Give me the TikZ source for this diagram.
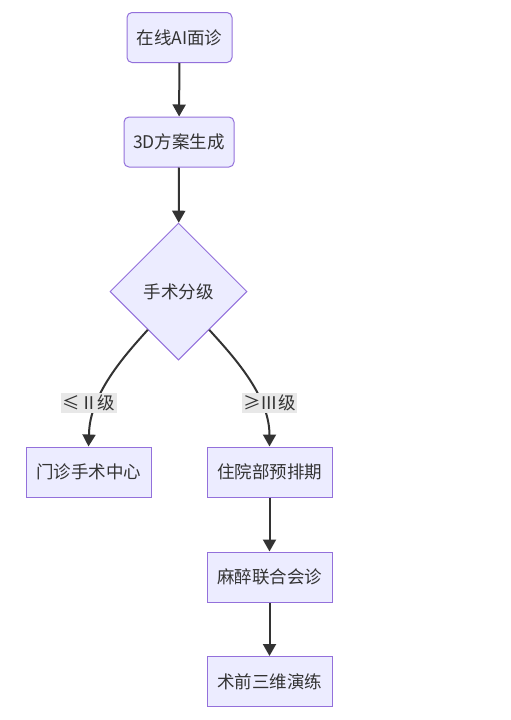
\documentclass[tikz,border=0pt]{standalone}
\usepackage{fontspec}
\newfontfamily\cjk{Noto Sans CJK SC}
\usetikzlibrary{shapes.geometric,arrows.meta,calc}
\definecolor{nodefill}{HTML}{ECECFF}
\definecolor{nodeline}{HTML}{9370DB}
\definecolor{edgecol}{HTML}{333333}
\definecolor{txt}{HTML}{333333}
\definecolor{lblbg}{HTML}{E8E8E8}
\begin{document}
\begin{tikzpicture}[x=1pt,y=-1pt,
  box/.style={draw=nodeline,fill=nodefill,line width=1pt,text=txt,font=\cjk\fontsize{17.5}{20}\selectfont,minimum height=50pt,inner sep=0pt},
  rbox/.style={box,rounded corners=5pt},
  dia/.style={diamond,draw=nodeline,fill=nodefill,line width=1pt,text=txt,font=\cjk\fontsize{17.5}{20}\selectfont,minimum width=137pt,minimum height=137pt,inner sep=0pt,aspect=1},
  arr/.style={draw=edgecol,line width=2pt,-{Triangle[width=13pt,length=12pt]}},
  lbl/.style={fill=lblbg,text=txt,font=\cjk\fontsize{17.5}{20}\selectfont,inner sep=1.5pt}
]
\useasboundingbox (0,0) rectangle (511,720);
\node[rbox,minimum width=105pt] (a) at (179.5,37.5) {在线AI面诊};
\node[rbox,minimum width=110pt] (b) at (179,142) {3D方案生成};
\node[dia] (d) at (178.5,291.5) {手术分级};
\node[box,minimum width=125pt] (l) at (88.5,472) {门诊手术中心};
\node[box,minimum width=125pt] (r1) at (269.5,472) {住院部预排期};
\node[box,minimum width=125pt] (r2) at (269.5,577) {麻醉联合会诊};
\node[box,minimum width=125pt] (r3) at (269.5,681.5) {术前三维演练};

\draw[arr] (a) -- (b);
\draw[arr] (b) -- (d);
\coordinate (ls) at ($(d.west)!0.555!(d.south)$);
\coordinate (rs) at ($(d.east)!0.555!(d.south)$);
\draw[arr] (ls) .. controls (125,355) and (89,395) .. (89,435) -- (l.north);
\draw[arr] (rs) .. controls (232,355) and (269.5,395) .. (269.5,435) -- (r1.north);
\node[lbl] (ll) at (89,403) {≤Ⅱ级};
\node[lbl] (rl) at (269.5,403) {≥Ⅲ级};
\draw[arr] (r1) -- (r2);
\draw[arr] (r2) -- (r3);
\end{tikzpicture}
\end{document}
